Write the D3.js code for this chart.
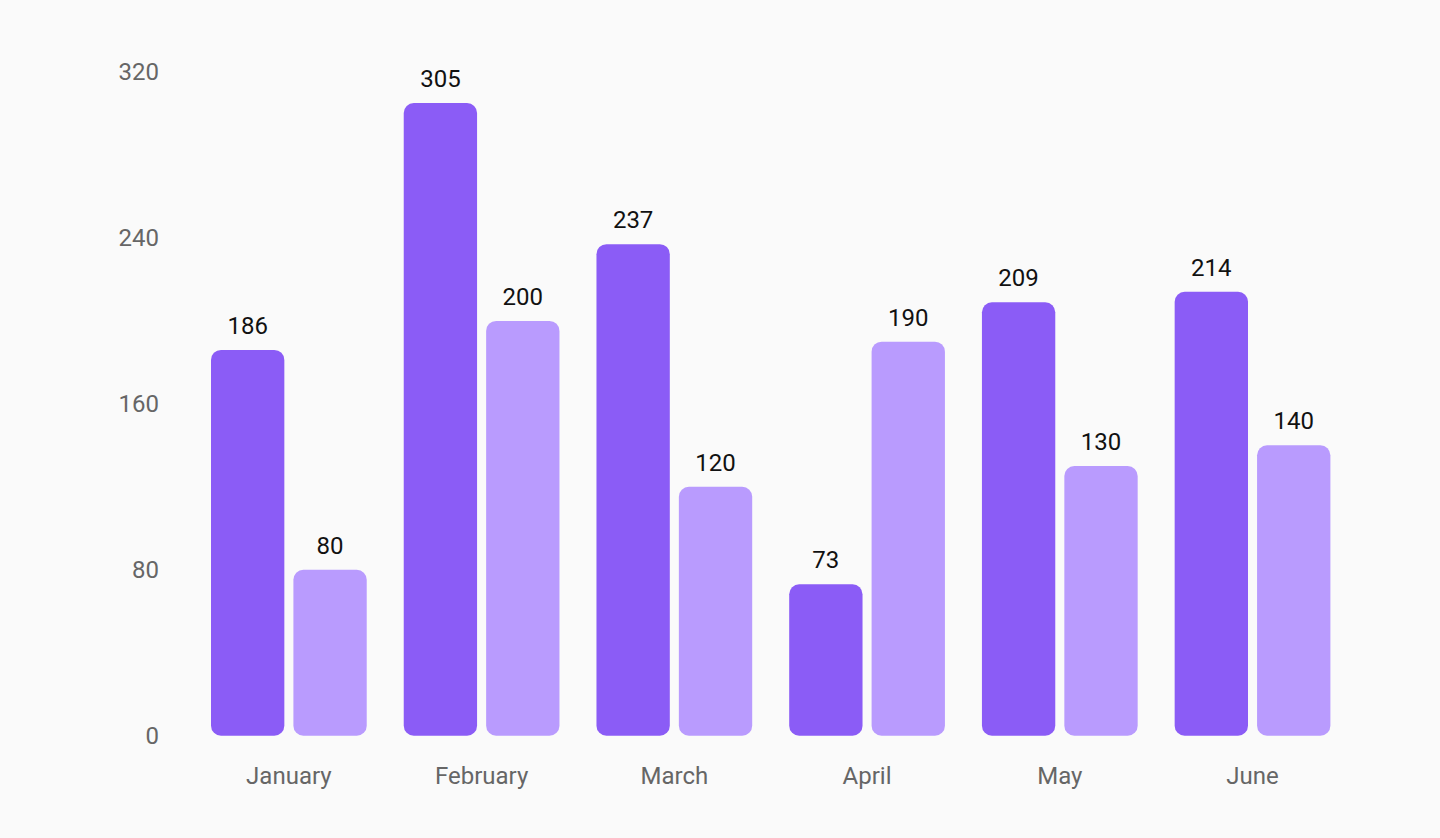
<!DOCTYPE html>
<html>
<head>
<meta charset="utf-8">
<script src="https://cdn.jsdelivr.net/npm/d3@7"></script>
<style>
  html, body { margin: 0; padding: 0; background: #fafafa; }
  svg { display: block; }
  text { font-family: Roboto, "Noto Sans", sans-serif; }
</style>
</head>
<body>
<svg id="chart" width="1440" height="838"></svg>
<script>
const months = ["January", "February", "March", "April", "May", "June"];
const seriesKeys = ["desktop", "mobile"];
const desktop = [186, 305, 237, 73, 209, 214];
const mobile = [80, 200, 120, 190, 130, 140];
const yTicks = [0, 80, 160, 240, 320];
const colors = ["#8b5cf6", "#b99bfe"];

const data = months.map((m, i) => ({ month: m, desktop: desktop[i], mobile: mobile[i] }));

const svg = d3.select("#chart");
svg.append("rect").attr("width", 1440).attr("height", 838).attr("fill", "#fafafa");

const x0 = d3.scaleBand().domain(months).range([192.5, 1348.9]).paddingInner(0.192).paddingOuter(0.096);
const x1 = d3.scaleBand().domain(seriesKeys).range([0, x0.bandwidth()]).paddingInner(0.11);
const y = d3.scaleLinear().domain([0, 320]).range([735.7, 72]);
const color = d3.scaleOrdinal().domain(seriesKeys).range(colors);

// y axis
const yAxis = svg.append("g")
  .attr("transform", "translate(159,0)")
  .call(d3.axisLeft(y).tickValues(yTicks).tickSize(0).tickPadding(0));
yAxis.select(".domain").remove();
yAxis.selectAll("text")
  .attr("fill", "#666666")
  .style("font-size", "24px")
  .style("font-family", "Roboto, 'Noto Sans', sans-serif");

// x axis
const xAxis = svg.append("g")
  .attr("transform", "translate(0,767)")
  .call(d3.axisBottom(x0).tickSize(0).tickPadding(0));
xAxis.select(".domain").remove();
xAxis.selectAll("text")
  .attr("fill", "#666666")
  .style("font-size", "24px")
  .style("font-family", "Roboto, 'Noto Sans', sans-serif");

// bars
const groups = svg.append("g").selectAll("g")
  .data(data)
  .join("g")
  .attr("transform", d => `translate(${x0(d.month)},0)`);

groups.selectAll("rect")
  .data(d => seriesKeys.map(k => ({ key: k, value: d[k] })))
  .join("rect")
  .attr("x", d => x1(d.key))
  .attr("width", x1.bandwidth())
  .attr("y", d => y(d.value))
  .attr("height", d => y(0) - y(d.value))
  .attr("rx", 10)
  .attr("fill", d => color(d.key));

groups.selectAll("text.val")
  .data(d => seriesKeys.map(k => ({ key: k, value: d[k] })))
  .join("text")
  .attr("class", "val")
  .attr("x", d => x1(d.key) + x1.bandwidth() / 2)
  .attr("y", d => y(d.value) - 16)
  .attr("text-anchor", "middle")
  .attr("fill", "#111111")
  .style("font-size", "24px")
  .style("font-weight", "400")
  .text(d => d.value);
</script>
</body>
</html>
